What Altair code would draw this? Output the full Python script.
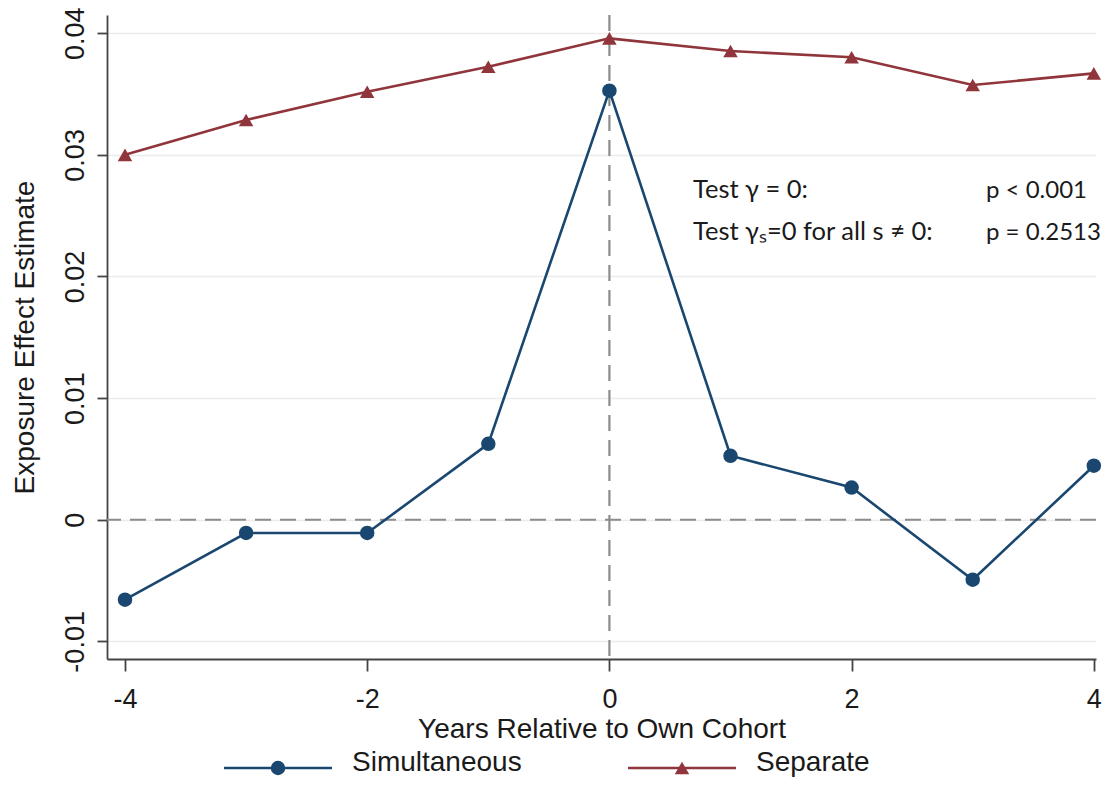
import altair as alt
import pandas as pd

# ---- data ----
years = [-4, -3, -2, -1, 0, 1, 2, 3, 4]
simultaneous = [-0.00657, -0.00109, -0.00109, 0.00624, 0.03528, 0.00526, 0.00265, -0.00493, 0.00444]
separate = [0.03000, 0.03287, 0.03519, 0.03725, 0.03958, 0.03854, 0.03802, 0.03574, 0.03670]

series_names = ["Simultaneous", "Separate"]
series_colors = ["#1a476f", "#90353b"]
series_shapes = ["circle", "triangle-up"]

x_ticks = [-4, -2, 0, 2, 4]
y_ticks = [-0.01, 0, 0.01, 0.02, 0.03, 0.04]

test_labels = ["Test γ = 0:", "Test γₛ=0 for all s ≠ 0:"]
test_pvalues = ["p < 0.001", "p = 0.2513"]

x_title = "Years Relative to Own Cohort"
y_title = "Exposure Effect Estimate"

# ---- tables ----
df = pd.DataFrame({
    "year": years * 2,
    "value": simultaneous + separate,
    "series": [series_names[0]] * len(years) + [series_names[1]] * len(years),
})

color_scale = alt.Scale(domain=series_names, range=series_colors)
shape_scale = alt.Scale(domain=series_names, range=series_shapes)

FONT = "Liberation Sans"
TXT = "#1a1a1a"

x_enc = alt.X(
    "year:Q",
    scale=alt.Scale(domain=[-4.1486, 4.018], nice=False, zero=False),
    axis=alt.Axis(
        values=x_ticks,
        title=x_title,
        grid=False,
        tickSize=12,
        labelPadding=15,
        labelFontSize=27,
        labelFlush=False,
        labelExpr="datum.value < 0 ? '-' + abs(datum.value) : '' + datum.value",
        titleFontSize=28,
        titleY=56,
        titleBaseline="top",
    ),
)

y_enc = alt.Y(
    "value:Q",
    scale=alt.Scale(domain=[-0.01145, 0.0415], nice=False, zero=False),
    axis=alt.Axis(
        values=y_ticks,
        title=y_title,
        grid=True,
        gridColor="#ececec",
        gridWidth=1.5,
        tickSize=10,
        labelAngle=270,
        labelAlign="center",
        labelBaseline="alphabetic",
        labelPadding=14,
        labelFontSize=27,
        labelFlush=False,
        labelExpr="datum.value == 0 ? '0' : (datum.value < 0 ? '-' + format(abs(datum.value), '.2f') : format(datum.value, '.2f'))",
        titleFontSize=28,
        titleAngle=270,
        titleX=-74,
        titleBaseline="alphabetic",
    ),
)

zero_h = alt.Chart(pd.DataFrame({"value": [0.0]})).mark_rule(
    color="#8c8c8c", strokeWidth=2.2, strokeDash=[16, 9]
).encode(y=alt.Y("value:Q"))

zero_v = alt.Chart(pd.DataFrame({"year": [0.0]})).mark_rule(
    color="#8c8c8c", strokeWidth=2.2, strokeDash=[16, 9]
).encode(x=alt.X("year:Q"))

lines = alt.Chart(df).mark_line(strokeWidth=2.6).encode(
    x=x_enc,
    y=y_enc,
    color=alt.Color("series:N", scale=color_scale, legend=None),
)

points = alt.Chart(df).mark_point(filled=True, size=210, opacity=1).encode(
    x=alt.X("year:Q"),
    y=alt.Y("value:Q"),
    color=alt.Color("series:N", scale=color_scale, legend=None),
    shape=alt.Shape("series:N", scale=shape_scale, legend=None),
)

layers = [zero_h, zero_v, lines, points]

# annotation text (pixel positions inside plot area)
ann_y = [183, 225]
for i in range(2):
    layers.append(
        alt.Chart(pd.DataFrame({"t": [test_labels[i]]})).mark_text(
            align="left", baseline="alphabetic", font="Lato", fontSize=25.5, color=TXT
        ).encode(x=alt.value(586), y=alt.value(ann_y[i]), text="t:N")
    )
    layers.append(
        alt.Chart(pd.DataFrame({"t": [test_pvalues[i]]})).mark_text(
            align="left", baseline="alphabetic", font="Lato", fontSize=24, color=TXT
        ).encode(x=alt.value(879), y=alt.value(ann_y[i]), text="t:N")
    )

# manual legend below the plot
legend_x = [117, 521]
for i, name in enumerate(series_names):
    lx = legend_x[i]
    ldf = pd.DataFrame({"series": [name]})
    layers.append(
        alt.Chart(ldf).mark_rule(strokeWidth=2.6, color=series_colors[i]).encode(
            x=alt.value(lx), x2=alt.value(lx + 108), y=alt.value(753)
        )
    )
    layers.append(
        alt.Chart(ldf).mark_point(
            filled=True, size=210, opacity=1, shape=series_shapes[i], color=series_colors[i]
        ).encode(x=alt.value(lx + 54), y=alt.value(753))
    )
    layers.append(
        alt.Chart(ldf).mark_text(
            align="left", baseline="alphabetic", font=FONT, fontSize=28, color=TXT
        ).encode(x=alt.value(lx + 128), y=alt.value(756), text="series:N")
    )

chart = alt.layer(*layers).properties(
    width=989,
    height=644,
    autosize=alt.AutoSizeParams(type="none"),
    padding={"left": 99, "top": 7, "right": 8, "bottom": 118},
).configure_view(stroke=None).configure_axis(
    domainColor="#444444",
    domainWidth=1.8,
    tickColor="#444444",
    tickWidth=1.8,
    labelFont=FONT,
    titleFont=FONT,
    labelColor=TXT,
    titleColor=TXT,
    titleFontWeight="normal",
    labelOverlap=False,
)

chart.save("out.html", embed_options={"renderer": "svg", "actions": False})
